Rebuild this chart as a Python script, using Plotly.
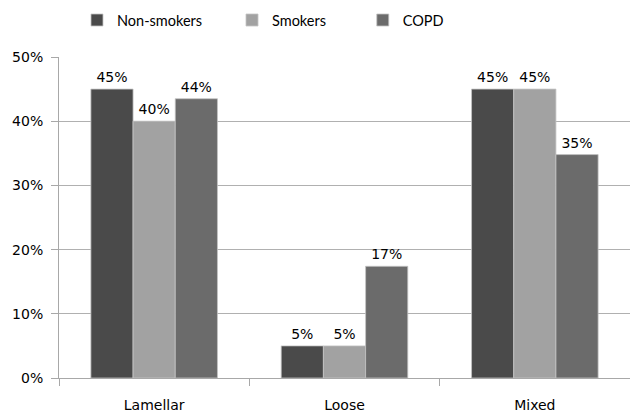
import plotly.graph_objects as go

categories = ["Lamellar", "Loose", "Mixed"]
series_names = ["Non-smokers", "Smokers", "COPD"]
non_smokers = [45.0, 5.0, 45.0]
smokers = [40.0, 5.0, 45.0]
copd = [43.5, 17.4, 34.8]
colors = ["#4a4a4a", "#a2a2a2", "#6b6b6b"]
y_ticks = [0, 10, 20, 30, 40, 50]
y_tick_labels = ["0%", "10%", "20%", "30%", "40%", "50%"]

FONT = "DejaVu Sans"
LEGEND_FONT = "Lato"
legend_ids = ["legend", "legend2", "legend3"]
legend_x = [0.0315, 0.3030, 0.5320]

fig = go.Figure()
for name, vals, col, lid in zip(series_names, [non_smokers, smokers, copd], colors, legend_ids):
    fig.add_trace(go.Bar(
        x=categories, y=vals, name=name, legend=lid,
        marker=dict(color=col, line=dict(color="#c4c4c4", width=0.8)),
        hoverinfo="skip",
    ))
for name, vals in zip(series_names, [non_smokers, smokers, copd]):
    fig.add_trace(go.Scatter(
        x=categories, y=vals, mode="markers+text", showlegend=False,
        marker=dict(size=4, opacity=0),
        texttemplate="%{y:.0f}%", textposition="top center",
        textfont=dict(size=14, color="#000000", family=FONT),
        cliponaxis=False, hoverinfo="skip",
    ))

legend_layout = {}
for lid, lx in zip(legend_ids, legend_x):
    legend_layout[lid] = dict(
        orientation="h", x=lx, xanchor="left", y=1.115, yanchor="middle",
        font=dict(size=14.5, family=LEGEND_FONT, color="#000000"),
        itemwidth=30, bgcolor="rgba(0,0,0,0)",
    )

fig.update_layout(
    width=630, height=414,
    margin=dict(l=59, r=0, t=57, b=36),
    paper_bgcolor="white", plot_bgcolor="white",
    barmode="group", bargap=0.335, bargroupgap=0,
    scattermode="group", scattergap=0.335,
    font=dict(family=FONT, size=14, color="#000000"),
    showlegend=True,
    xaxis=dict(
        showgrid=False, showline=True, linecolor="#a8a8a8", linewidth=1,
        ticks="outside", tickson="boundaries", ticklen=7, tickcolor="#a8a8a8",
        tickfont=dict(size=14, family=FONT), ticklabelstandoff=14,
    ),
    yaxis=dict(
        range=[0, 50], tickvals=y_ticks, ticktext=y_tick_labels,
        showgrid=True, gridcolor="#b0b0b0", gridwidth=1,
        showline=True, linecolor="#a8a8a8", linewidth=1,
        ticks="outside", ticklen=7, tickcolor="#a8a8a8",
        tickfont=dict(size=14, family=FONT), zeroline=False,
        ticklabelstandoff=5,
    ),
    **legend_layout,
)

fig.write_html("out.html", config={"displayModeBar": False},
               post_script="document.body.style.margin='0px';")
